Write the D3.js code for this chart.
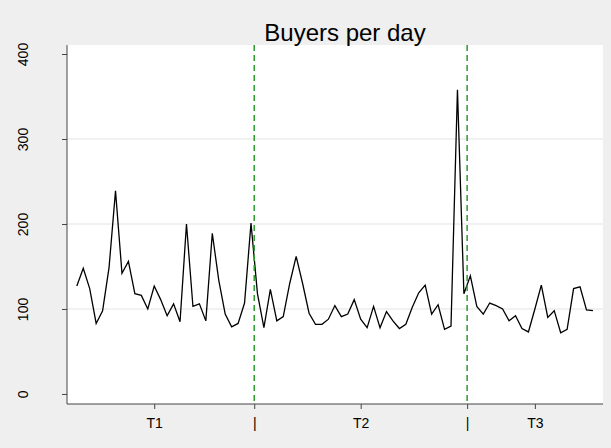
<!DOCTYPE html>
<html>
<head>
<meta charset="utf-8">
<script src="https://cdn.jsdelivr.net/npm/d3@7"></script>
<style>
  html, body { margin: 0; padding: 0; background: #efefef; }
  svg { display: block; font-family: "Liberation Sans", Arial, sans-serif; }
</style>
</head>
<body>
<svg id="chart" width="611" height="448"></svg>
<script>
// ---- data ----
const title = "Buyers per day";
const days = d3.range(1, 82);
const buyers = [
  127, 148, 124, 83, 98, 149, 239, 142, 156, 118,
  116, 100, 127, 111, 92, 106, 85, 200, 103, 106,
  86, 189, 134, 94, 79, 83, 107, 201, 118, 78,
  123, 86, 91, 130, 162, 130, 95, 82, 82, 88,
  104, 91, 94, 111, 88, 78, 103, 78, 97, 86,
  77, 82, 102, 119, 128, 94, 105, 76, 80, 358,
  118, 139, 103, 94, 107, 104, 100, 86, 92, 77,
  73, 100, 128, 90, 98, 72, 76, 124, 126, 99, 98
];
const yTicks = [0, 100, 200, 300, 400];
const gridValues = [100, 200, 300];
const periodLabels = ["T1", "T2", "T3"];
const periodLabelDays = [13, 45, 72];
const dividerDays = [28.5, 61.5];
const xDomain = [-0.52, 82.56];
const yDomain = [-11.8, 410.6];

// ---- layout ----
const svg = d3.select("#chart");
const W = 611, H = 448;
const plot = { left: 67, right: 603, top: 45, bottom: 404 };
const FONT = '"Liberation Sans", Arial, sans-serif';

svg.append("rect").attr("x", 0).attr("y", 0).attr("width", W).attr("height", H).attr("fill", "#efefef");
svg.append("rect").attr("x", plot.left).attr("y", plot.top)
  .attr("width", plot.right - plot.left).attr("height", plot.bottom - plot.top)
  .attr("fill", "#ffffff");

const x = d3.scaleLinear().domain(xDomain).range([plot.left, plot.right]);
const y = d3.scaleLinear().domain(yDomain).range([plot.bottom, plot.top]);

// gridlines
svg.append("g").selectAll("line").data(gridValues).join("line")
  .attr("x1", plot.left).attr("x2", plot.right)
  .attr("y1", d => y(d)).attr("y2", d => y(d))
  .attr("stroke", "#e3e3e3").attr("stroke-width", 1);

// y axis
const yAxis = d3.axisLeft(y).tickValues(yTicks).tickSize(5);
const gy = svg.append("g").attr("transform", `translate(${plot.left},0)`).call(yAxis);
gy.select(".domain").attr("d", `M0,${plot.top}V${plot.bottom}`).attr("stroke", "#444");
gy.selectAll(".tick line").attr("stroke", "#444");
gy.selectAll(".tick text")
  .attr("transform", "translate(-44,0) rotate(-90)")
  .attr("x", 0).attr("y", 0).attr("dy", "0.35em")
  .attr("text-anchor", "middle")
  .attr("font-size", 14).attr("fill", "#000")
  .style("font-family", FONT);

// x axis: tick marks at period labels and dividers
const xTickVals = periodLabelDays.concat(dividerDays);
const xLabelMap = new Map();
periodLabelDays.forEach((d, i) => xLabelMap.set(d, periodLabels[i]));
dividerDays.forEach(d => xLabelMap.set(d, "|"));
const xAxis = d3.axisBottom(x).tickValues(xTickVals).tickSize(5).tickPadding(9)
  .tickFormat(d => xLabelMap.get(d));
const gx = svg.append("g").attr("transform", `translate(0,${plot.bottom})`).call(xAxis);
gx.select(".domain").attr("d", `M${plot.left},0H${plot.right}`).attr("stroke", "#444");
gx.selectAll(".tick line").attr("stroke", "#444");
gx.selectAll(".tick text").attr("font-size", 14).attr("fill", "#000")
  .style("font-family", FONT);

// line
const line = d3.line().x((d, i) => x(days[i])).y(d => y(d));
svg.append("path").datum(buyers)
  .attr("d", line).attr("fill", "none")
  .attr("stroke", "#000").attr("stroke-width", 1.3)
  .attr("stroke-linejoin", "miter");

// divider dashed lines
svg.append("g").selectAll("line").data(dividerDays).join("line")
  .attr("x1", d => x(d)).attr("x2", d => x(d))
  .attr("y1", plot.top).attr("y2", plot.bottom)
  .attr("stroke", "#2e9a2e").attr("stroke-width", 1.5)
  .attr("stroke-dasharray", "6,4");

// title
svg.append("text").attr("x", 345).attr("y", 41)
  .attr("text-anchor", "middle").attr("font-size", 24).attr("fill", "#000")
  .style("font-family", FONT)
  .text(title);
</script>
</body>
</html>
